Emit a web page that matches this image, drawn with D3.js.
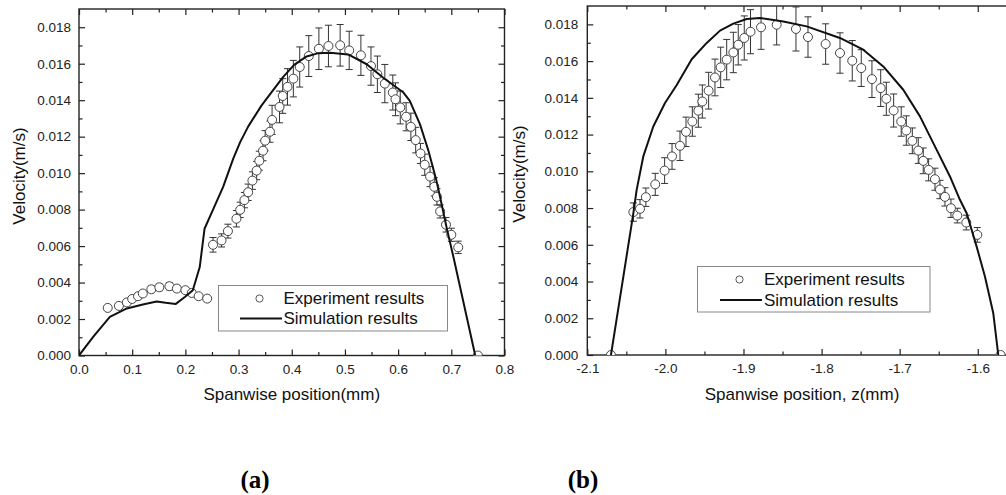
<!DOCTYPE html>
<html><head><meta charset="utf-8">
<script src="https://cdn.jsdelivr.net/npm/d3@7"></script>
<style>body{margin:0;background:#fff}svg{display:block}</style>
</head><body>
<svg id="chart" width="1006" height="495"></svg>
<script>
// ---------- DATA ----------
// Panel (a)
const aExpX = [0.054,0.075,0.090,0.100,0.111,0.120,0.136,0.151,0.170,0.184,0.200,0.212,0.225,0.241,
  0.252,0.268,0.280,0.296,0.303,0.311,0.318,0.326,0.334,0.339,0.346,0.350,0.359,0.363,0.377,0.383,0.392,
  0.403,0.415,0.432,0.451,0.469,0.491,0.508,0.530,0.549,0.561,0.575,0.590,0.595,0.604,0.615,0.624,0.633,
  0.642,0.650,0.660,0.668,0.673,0.679,0.690,0.700,0.713,0.750];
const aExpY = [0.00261,0.00272,0.00291,0.00310,0.00325,0.00340,0.00363,0.00374,0.00380,0.00367,0.00358,0.00343,0.00325,0.00312,
  0.00607,0.00631,0.00682,0.00750,0.00799,0.00852,0.00895,0.00959,0.01014,0.01068,0.01123,0.01178,0.01227,0.01292,0.01363,0.01423,0.01473,
  0.01518,0.01582,0.01642,0.01682,0.01697,0.01701,0.01673,0.01646,0.01587,0.01542,0.01491,0.01442,0.01405,0.01360,0.01309,0.01254,0.01181,
  0.01108,0.01046,0.00981,0.00925,0.00870,0.00790,0.00717,0.00662,0.00593,0.00000];
const aExpErr = [0.00012,0.00012,0.00012,0.00014,0.00015,0.00015,0.00018,0.00018,0.00020,0.00016,0.00015,0.00015,0.00012,0.00012,
  0.00040,0.00036,0.00038,0.00045,0.00042,0.00042,0.00045,0.00048,0.00050,0.00052,0.00055,0.00055,0.00058,0.00080,0.00087,0.00095,0.00100,
  0.00100,0.00110,0.00112,0.00114,0.00114,0.00114,0.00105,0.00110,0.00105,0.00100,0.00105,0.00096,0.00090,0.00090,0.00077,0.00075,0.00070,
  0.00055,0.00058,0.00055,0.00050,0.00045,0.00036,0.00040,0.00036,0.00034,0];
const aSimX = [0,0.027,0.058,0.090,0.120,0.146,0.163,0.182,0.199,0.214,0.227,0.236,0.252,0.271,0.290,0.303,0.318,0.343,0.365,
  0.384,0.405,0.428,0.450,0.472,0.506,0.541,0.572,0.610,0.622,0.641,0.657,0.672,0.679,0.691,0.704,0.745];
const aSimY = [0,0.00103,0.00212,0.00258,0.00280,0.00296,0.00289,0.00283,0.00321,0.00358,0.00485,0.00695,0.00800,0.00925,0.01080,0.01170,0.01255,0.01370,0.01455,
  0.01528,0.01595,0.01640,0.01658,0.01660,0.01651,0.01597,0.01523,0.01442,0.01396,0.01269,0.01123,0.00959,0.00868,0.00704,0.00540,0];

// Panel (b)
const bExpX = [-2.0697,-2.041,-2.0325,-2.025,-2.013,-2.001,-1.9915,-1.9813,-1.9736,-1.9655,-1.9578,-1.9527,-1.9446,-1.9365,
  -1.9292,-1.9215,-1.913,-1.9067,-1.899,-1.891,-1.8775,-1.8575,-1.8328,-1.8174,-1.7948,-1.7764,-1.7607,-1.7492,-1.7355,
  -1.7243,-1.7171,-1.7077,-1.698,-1.6915,-1.6838,-1.6762,-1.6698,-1.6629,-1.6548,-1.6484,-1.642,-1.6343,-1.6262,-1.6147,-1.6006,-1.5707];
const bExpY = [0,0.00778,0.00796,0.00859,0.00929,0.01004,0.01081,0.01139,0.01215,0.01271,0.01330,0.01380,0.01439,0.01511,
  0.01566,0.01608,0.01647,0.01689,0.01726,0.01760,0.01784,0.01798,0.01775,0.01731,0.01693,0.01644,0.01602,0.01562,0.01502,
  0.01453,0.01395,0.01331,0.01271,0.01222,0.01166,0.01113,0.01057,0.01008,0.00957,0.00901,0.00861,0.00799,0.00759,0.00721,0.00654,0];
const bExpErr = [0,0.0005,0.0005,0.0005,0.0006,0.0007,0.0007,0.0008,0.0008,0.0008,0.0009,0.0009,0.0010,0.0010,
  0.0011,0.0011,0.0011,0.0011,0.0012,0.0012,0.0012,0.0011,0.0012,0.0011,0.0011,0.0011,0.0011,0.0010,0.0010,
  0.0010,0.0009,0.0009,0.0008,0.0008,0.0007,0.0007,0.0007,0.0006,0.0006,0.0005,0.0005,0.0005,0.0004,0.0004,0.0004,0];
const bSimX = [-2.0697,-2.041,-2.0368,-2.0283,-2.0155,-2.0005,-1.9855,-1.9663,-1.9471,-1.93,-1.913,-1.8959,-1.879,-1.849,
  -1.8191,-1.7765,-1.7466,-1.721,-1.6954,-1.674,-1.6526,-1.6356,-1.6228,-1.6142,-1.6014,-1.5908,-1.5801,-1.5737];
const bSimY = [0,0.00772,0.00899,0.01081,0.01244,0.01372,0.01470,0.01610,0.01699,0.01766,0.01804,0.01829,0.01835,0.01816,
  0.01789,0.01726,0.01662,0.01571,0.01444,0.01299,0.01117,0.00972,0.00845,0.00772,0.00590,0.00427,0.00227,0];

// Ticks
const yTicks = [0,0.002,0.004,0.006,0.008,0.010,0.012,0.014,0.016,0.018];
const yTickLabels = ["0.000","0.002","0.004","0.006","0.008","0.010","0.012","0.014","0.016","0.018"];
const yMinorTicks = [0.001,0.003,0.005,0.007,0.009,0.011,0.013,0.015,0.017];
const aXTicks = [0,0.1,0.2,0.3,0.4,0.5,0.6,0.7,0.8];
const aXTickLabels = ["0.0","0.1","0.2","0.3","0.4","0.5","0.6","0.7","0.8"];
const aXMinorTicks = [0.05,0.15,0.25,0.35,0.45,0.55,0.65,0.75];
const bXTicks = [-2.1,-2.0,-1.9,-1.8,-1.7,-1.6];
const bXTickLabels = ["-2.1","-2.0","-1.9","-1.8","-1.7","-1.6"];
const bXMinorTicks = [-2.05,-1.95,-1.85,-1.75,-1.65,-1.55];

const legendLabels = ["Experiment results","Simulation results"];
const yTitle = "Velocity(m/s)";
const aXTitle = "Spanwise position(mm)";
const bXTitle = "Spanwise position, z(mm)";
const panelLabels = ["(a)","(b)"];

// ---------- DRAW ----------
const svg = d3.select("#chart");
const FONT = "'Liberation Sans', Arial, sans-serif";
const AX = "#222";

function panel(o){
  const x = d3.scaleLinear().domain(o.xDomain).range([o.left, o.right]);
  const y = d3.scaleLinear().domain([0, 0.019]).range([o.bottom, o.top]);
  const g = svg.append("g");
  const clipId = "clip" + o.id;
  svg.append("clipPath").attr("id", clipId).append("rect")
    .attr("x", o.left).attr("y", o.top).attr("width", o.right - o.left).attr("height", o.bottom - o.top);

  const styleAxis = sel => {
    sel.select(".domain").remove();
    sel.selectAll("line").attr("stroke", AX).attr("stroke-width", 1.2);
    sel.selectAll("text").attr("fill", "#222").style("font-family", FONT).style("font-size", "13.5px");
  };
  // bottom
  g.append("g").attr("transform", `translate(0,${o.bottom})`)
    .call(d3.axisBottom(x).tickValues(o.xTicks).tickFormat((d,i)=>o.xLabels[i]).tickSize(-6).tickPadding(8.5)).call(styleAxis);
  g.append("g").attr("transform", `translate(0,${o.bottom})`)
    .call(d3.axisBottom(x).tickValues(o.xMinor).tickFormat("").tickSize(-3.5)).call(styleAxis);
  // top
  g.append("g").attr("transform", `translate(0,${o.top})`)
    .call(d3.axisTop(x).tickValues(o.xTicks).tickFormat("").tickSize(-6)).call(styleAxis);
  g.append("g").attr("transform", `translate(0,${o.top})`)
    .call(d3.axisTop(x).tickValues(o.xMinor).tickFormat("").tickSize(-3.5)).call(styleAxis);
  // left
  g.append("g").attr("transform", `translate(${o.left},0)`)
    .call(d3.axisLeft(y).tickValues(yTicks).tickFormat((d,i)=>yTickLabels[i]).tickSize(-6).tickPadding(o.yPad)).call(styleAxis);
  g.append("g").attr("transform", `translate(${o.left},0)`)
    .call(d3.axisLeft(y).tickValues(yMinorTicks).tickFormat("").tickSize(-3.5)).call(styleAxis);
  // right
  g.append("g").attr("transform", `translate(${o.right},0)`)
    .call(d3.axisRight(y).tickValues(yTicks).tickFormat("").tickSize(-6)).call(styleAxis);
  g.append("g").attr("transform", `translate(${o.right},0)`)
    .call(d3.axisRight(y).tickValues(yMinorTicks).tickFormat("").tickSize(-3.5)).call(styleAxis);

  // frame
  g.append("rect").attr("x", o.left).attr("y", o.top).attr("width", o.right - o.left).attr("height", o.bottom - o.top)
    .attr("fill", "none").attr("stroke", AX).attr("stroke-width", 1.4);

  const data = o.ex.map((v,i)=>({x:v, y:o.ey[i], e:o.ee[i]}));
  const pg = g.append("g").attr("clip-path", `url(#${clipId})`);
  // error bars
  const eb = pg.append("g").selectAll("g").data(data.filter(d=>d.e>0)).join("g")
    .attr("stroke", "#333").attr("stroke-width", 1);
  eb.append("line").attr("x1", d=>x(d.x)).attr("x2", d=>x(d.x)).attr("y1", d=>y(d.y-d.e)).attr("y2", d=>y(d.y+d.e));
  eb.append("line").attr("x1", d=>x(d.x)-3.5).attr("x2", d=>x(d.x)+3.5).attr("y1", d=>y(d.y+d.e)).attr("y2", d=>y(d.y+d.e));
  eb.append("line").attr("x1", d=>x(d.x)-3.5).attr("x2", d=>x(d.x)+3.5).attr("y1", d=>y(d.y-d.e)).attr("y2", d=>y(d.y-d.e));
  // markers
  pg.append("g").selectAll("circle").data(data).join("circle")
    .attr("cx", d=>x(d.x)).attr("cy", d=>y(d.y)).attr("r", 4.5)
    .attr("fill", "#fff").attr("stroke", "#444").attr("stroke-width", 1);
  // simulation line
  const line = d3.line().x(d=>x(d[0])).y(d=>y(d[1]));
  pg.append("path").datum(o.sx.map((v,i)=>[v, o.sy[i]]))
    .attr("d", line).attr("fill", "none").attr("stroke", "#111").attr("stroke-width", 2).attr("stroke-linejoin","round");

  // axis titles
  svg.append("text").attr("x", (o.left + o.right)/2).attr("y", o.xTitleY).attr("text-anchor", "middle")
    .style("font-family", FONT).style("font-size", "17px").attr("fill", "#111").text(o.xTitle);
  svg.append("text").attr("transform", `translate(${o.yTitleX},${o.yTitleY}) rotate(-90)`).attr("text-anchor", "middle")
    .style("font-family", FONT).style("font-size", "17px").attr("fill", "#111").text(yTitle);

  // legend
  const L = o.legend;
  const lg = svg.append("g");
  lg.append("rect").attr("x", L.x).attr("y", L.y).attr("width", L.w).attr("height", L.h)
    .attr("fill", "#fff").attr("stroke", "#888").attr("stroke-width", 1);
  lg.append("circle").attr("cx", L.cx).attr("cy", L.r1).attr("r", 3.6).attr("fill", "#fff").attr("stroke", "#555").attr("stroke-width", 1);
  lg.append("line").attr("x1", L.lx1).attr("x2", L.lx2).attr("y1", L.r2).attr("y2", L.r2).attr("stroke", "#111").attr("stroke-width", 2);
  [L.r1, L.r2].forEach((ry,i)=>{
    lg.append("text").attr("x", L.tx).attr("y", ry).attr("dy", "0.35em")
      .style("font-family", FONT).style("font-size", "17px").attr("fill", "#111").text(legendLabels[i]);
  });

  // panel label
  svg.append("text").attr("x", o.labelX).attr("y", 488).attr("text-anchor", "middle")
    .style("font-family", "'Liberation Serif', 'Times New Roman', serif").style("font-weight", "bold")
    .style("font-size", "25px").attr("fill", "#000").text(o.label);
}

panel({
  id: "a", xDomain: [0, 0.8], left: 79, right: 504.5, top: 9, bottom: 355.5,
  xTicks: aXTicks, xLabels: aXTickLabels, xMinor: aXMinorTicks, yPad: 8,
  ex: aExpX, ey: aExpY, ee: aExpErr, sx: aSimX, sy: aSimY,
  xTitle: aXTitle, xTitleY: 400, yTitleX: 25, yTitleY: 176,
  legend: {x: 218.5, y: 285.5, w: 229, h: 45.5, cx: 259.5, r1: 298.5, r2: 318.5, lx1: 240, lx2: 282, tx: 283.5},
  label: panelLabels[0], labelX: 255
});
panel({
  id: "b", xDomain: [-2.1, -1.55], left: 587.3, right: 1016.8, top: 6, bottom: 355,
  xTicks: bXTicks, xLabels: bXTickLabels, xMinor: bXMinorTicks, yPad: 9,
  ex: bExpX, ey: bExpY, ee: bExpErr, sx: bSimX, sy: bSimY,
  xTitle: bXTitle, xTitleY: 400, yTitleX: 525, yTitleY: 174,
  legend: {x: 697.5, y: 266.5, w: 232.5, h: 45.5, cx: 739.5, r1: 279.5, r2: 300, lx1: 720, lx2: 762, tx: 764},
  label: panelLabels[1], labelX: 583
});
</script>
</body></html>
